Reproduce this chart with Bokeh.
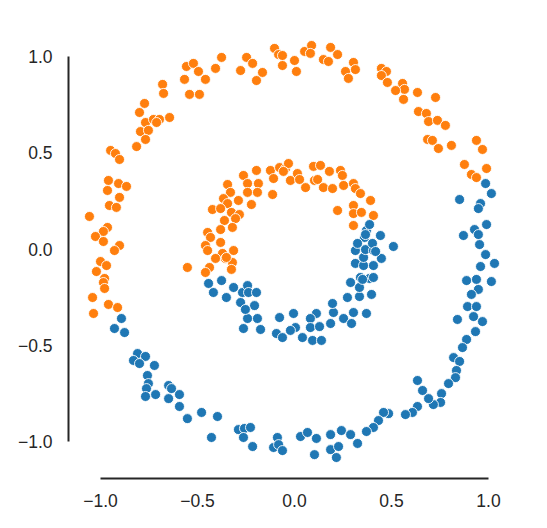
from bokeh.plotting import figure
from bokeh.models import FixedTicker
from bokeh.embed import file_html
from bokeh.resources import INLINE

# Two noisy concentric rings, coloured by class
tick_values = [-1.0, -0.5, 0.0, 0.5, 1.0]
tick_labels = ["\u22121.0", "\u22120.5", "0.0", "0.5", "1.0"]

class_colors = {"blue": "#1f77b4", "orange": "#ff7f0e"}

# outer ring, orange class
outer_orange_x = [
    -0.557, -0.521, -0.495, -0.567, -0.459, -0.407, -0.376, -0.541, -0.490, -0.680,
    -0.675, -0.773, -0.799, -0.768, -0.727, -0.696, -0.711, -0.644, -0.794, -0.753,
    -0.768, -0.814, -0.948, -0.923, -0.902, -0.959, -0.907, -0.866, -0.964, -0.902,
    -0.954, -0.918, -1.057, -0.964, -0.985, -1.026, -0.985, -0.902, -0.928, -1.000,
    -0.969, -1.021, -0.979, -0.985, -0.979, -1.041, -0.959, -0.912, -1.036, -0.247,
    -0.216, -0.278, -0.165, -0.196, -0.103, -0.082, -0.062, -0.062, 0.000, 0.010,
    0.052, 0.088, 0.082, 0.186, 0.222, 0.149, 0.175, 0.304, 0.263, 0.278,
    0.314, 0.448, 0.474, 0.448, 0.479, 0.557, 0.567, 0.521, 0.562, 0.634,
    0.727, 0.639, 0.680, 0.691, 0.737, 0.778, 0.686, 0.711, 0.742, 0.809,
    0.938, 0.969, 0.876, 0.990, 0.912, 0.938,
]
outer_orange_y = [
    0.948, 0.964, 0.922, 0.881, 0.881, 0.938, 0.995, 0.803, 0.803, 0.855,
    0.808, 0.756, 0.709, 0.657, 0.673, 0.673, 0.657, 0.683, 0.610, 0.616,
    0.569, 0.532, 0.512, 0.496, 0.465, 0.356, 0.340, 0.325, 0.304, 0.268,
    0.226, 0.216, 0.169, 0.112, 0.091, 0.065, 0.039, 0.018, -0.008, -0.065,
    -0.086, -0.117, -0.153, -0.174, -0.205, -0.252, -0.288, -0.304, -0.335, 0.995,
    0.964, 0.927, 0.917, 0.875, 1.042, 1.010, 1.005, 0.953, 0.979, 0.922,
    1.026, 1.057, 1.016, 1.047, 1.010, 0.984, 0.974, 0.969, 0.922, 0.886,
    0.932, 0.938, 0.922, 0.901, 0.865, 0.860, 0.829, 0.823, 0.777, 0.813,
    0.787, 0.714, 0.704, 0.662, 0.668, 0.642, 0.569, 0.564, 0.522, 0.538,
    0.564, 0.517, 0.439, 0.418, 0.387, 0.371,
]

# outer ring, blue class
outer_blue_x = [
    0.985, 1.015, 0.851, 0.959, 0.948, 0.990, 0.928, 0.948, 0.871, 0.954,
    0.985, 0.959, 1.031, 0.887, 0.938, 1.015, 0.948, 0.912, 0.892, 0.938,
    0.923, 0.840, 0.969, 0.933, 0.887, 0.866, 0.820, 0.851, 0.835, 0.830,
    0.794, 0.758, 0.753, 0.716, 0.691, 0.660, 0.634, 0.634, 0.608, 0.572,
    0.485, 0.459, 0.433, 0.407, 0.371, -0.289, -0.258, -0.227, -0.263, -0.216,
    -0.088, -0.108, -0.082, -0.062, 0.031, 0.067, 0.113, 0.103, 0.186, 0.242,
    0.289, 0.186, 0.227, 0.216, 0.325, -0.892, -0.928, -0.876, -0.809, -0.768,
    -0.830, -0.799, -0.722, -0.758, -0.753, -0.763, -0.716, -0.768, -0.649, -0.634,
    -0.593, -0.649, -0.593, -0.552, -0.479, -0.397, -0.428,
]
outer_blue_y = [
    0.340, 0.288, 0.257, 0.236, 0.210, 0.127, 0.101, 0.075, 0.070, 0.023,
    -0.029, -0.091, -0.075, -0.164, -0.158, -0.169, -0.210, -0.236, -0.299, -0.299,
    -0.351, -0.366, -0.377, -0.429, -0.470, -0.512, -0.564, -0.584, -0.631, -0.668,
    -0.699, -0.751, -0.797, -0.808, -0.777, -0.735, -0.683, -0.818, -0.849, -0.860,
    -0.855, -0.849, -0.891, -0.927, -0.948, -0.938, -0.932, -0.927, -0.979, -1.026,
    -0.979, -1.031, -1.016, -1.047, -0.974, -0.953, -0.984, -1.068, -0.964, -0.943,
    -0.964, -1.042, -1.026, -1.083, -1.010, -0.361, -0.413, -0.434, -0.543, -0.558,
    -0.579, -0.595, -0.605, -0.657, -0.699, -0.725, -0.756, -0.766, -0.709, -0.725,
    -0.756, -0.777, -0.818, -0.881, -0.849, -0.870, -0.979,
]

# inner ring, orange class
inner_orange_x = [
    -0.196, -0.263, -0.345, -0.242, -0.186, -0.330, -0.242, -0.191, -0.113, -0.366,
    -0.289, -0.345, -0.222, -0.423, -0.381, -0.325, -0.284, -0.304, -0.361, -0.381,
    -0.320, -0.448, -0.433, -0.381, -0.459, -0.448, -0.314, -0.371, -0.407, -0.356,
    -0.320, -0.438, -0.459, -0.325, -0.552, -0.124, -0.077, -0.046, -0.031, -0.108,
    -0.021, 0.015, 0.026, 0.057, 0.103, 0.098, 0.134, 0.180, 0.149, 0.196,
    0.237, 0.247, 0.253, 0.304, 0.314, 0.340, 0.392, 0.304, 0.304, 0.345,
    0.407, 0.222, 0.304, -0.351, -0.057, 0.119,
]
inner_orange_y = [
    0.408, 0.382, 0.335, 0.340, 0.340, 0.294, 0.294, 0.294, 0.283, 0.262,
    0.252, 0.236, 0.231, 0.205, 0.210, 0.190, 0.179, 0.158, 0.148, 0.101,
    0.112, 0.086, 0.060, 0.034, 0.018, -0.008, -0.008, -0.023, -0.049, -0.049,
    -0.070, -0.096, -0.122, -0.106, -0.096, 0.408, 0.423, 0.418, 0.444, 0.366,
    0.356, 0.392, 0.361, 0.319, 0.356, 0.429, 0.434, 0.403, 0.319, 0.314,
    0.408, 0.382, 0.330, 0.340, 0.314, 0.288, 0.252, 0.226, 0.184, 0.190,
    0.174, 0.200, 0.122, -0.044, 0.403, 0.361,
]

# inner ring, blue class
inner_blue_x = [
    -0.443, -0.376, -0.418, -0.314, -0.351, -0.268, -0.242, -0.237, -0.196, -0.278,
    -0.206, -0.242, -0.191, -0.263, -0.175, -0.077, -0.093, -0.005, 0.005, -0.021,
    0.041, 0.113, 0.082, 0.082, 0.129, 0.093, 0.139, 0.186, 0.201, 0.196,
    0.253, 0.294, 0.304, 0.371, 0.273, 0.335, 0.397, 0.289, 0.335, 0.340,
    0.387, 0.407, 0.314, 0.356, 0.407, 0.448, 0.356, 0.314, 0.366, 0.407,
    0.510, 0.402, 0.443, 0.361, 0.371, 0.387, -0.253, -0.062, 0.325, 0.366,
    0.418, 0.351,
]
inner_blue_y = [
    -0.179, -0.164, -0.226, -0.200, -0.252, -0.226, -0.190, -0.226, -0.226, -0.278,
    -0.294, -0.361, -0.361, -0.413, -0.418, -0.356, -0.439, -0.335, -0.408, -0.423,
    -0.460, -0.335, -0.361, -0.408, -0.403, -0.475, -0.475, -0.387, -0.330, -0.283,
    -0.361, -0.387, -0.330, -0.335, -0.252, -0.247, -0.236, -0.174, -0.200, -0.148,
    -0.153, -0.148, -0.075, -0.086, -0.086, -0.049, -0.044, -0.008, -0.003, -0.008,
    0.013, 0.029, 0.070, 0.060, 0.096, 0.127, -0.314, -0.460, 0.029, 0.075,
    -0.013, -0.158,
]

p = figure(
    width=547, height=528,
    x_range=(-1.165, 1.165), y_range=(-1.192, 1.192),
    output_backend="svg", toolbar_location=None,
    min_border_left=68, min_border_right=27,
    min_border_top=19, min_border_bottom=50,
    background_fill_color="white", border_fill_color="white",
)
p.outline_line_color = None
p.grid.visible = False

marker_style = dict(size=10, line_color="white", line_width=0.9)
p.scatter(outer_orange_x, outer_orange_y, fill_color=class_colors["orange"], **marker_style)
p.scatter(inner_orange_x, inner_orange_y, fill_color=class_colors["orange"], **marker_style)
p.scatter(outer_blue_x, outer_blue_y, fill_color=class_colors["blue"], **marker_style)
p.scatter(inner_blue_x, inner_blue_y, fill_color=class_colors["blue"], **marker_style)

overrides = {v: lab for v, lab in zip(tick_values, tick_labels)}
for ax in (p.xaxis[0], p.yaxis[0]):
    ax.ticker = FixedTicker(ticks=tick_values)
    ax.major_label_overrides = overrides
    ax.bounds = (tick_values[0], tick_values[-1])
    ax.axis_line_color = "#262626"
    ax.axis_line_width = 2
    ax.major_tick_line_color = None
    ax.minor_tick_line_color = None
    ax.major_tick_out = 0
    ax.major_tick_in = 0
    ax.major_label_text_font = "Liberation Sans"
    ax.major_label_text_font_size = "17.5px"
    ax.major_label_text_color = "#262626"
p.xaxis.major_label_standoff = 15
p.yaxis.major_label_standoff = 16

open("out.html", "w").write(file_html(p, INLINE))
